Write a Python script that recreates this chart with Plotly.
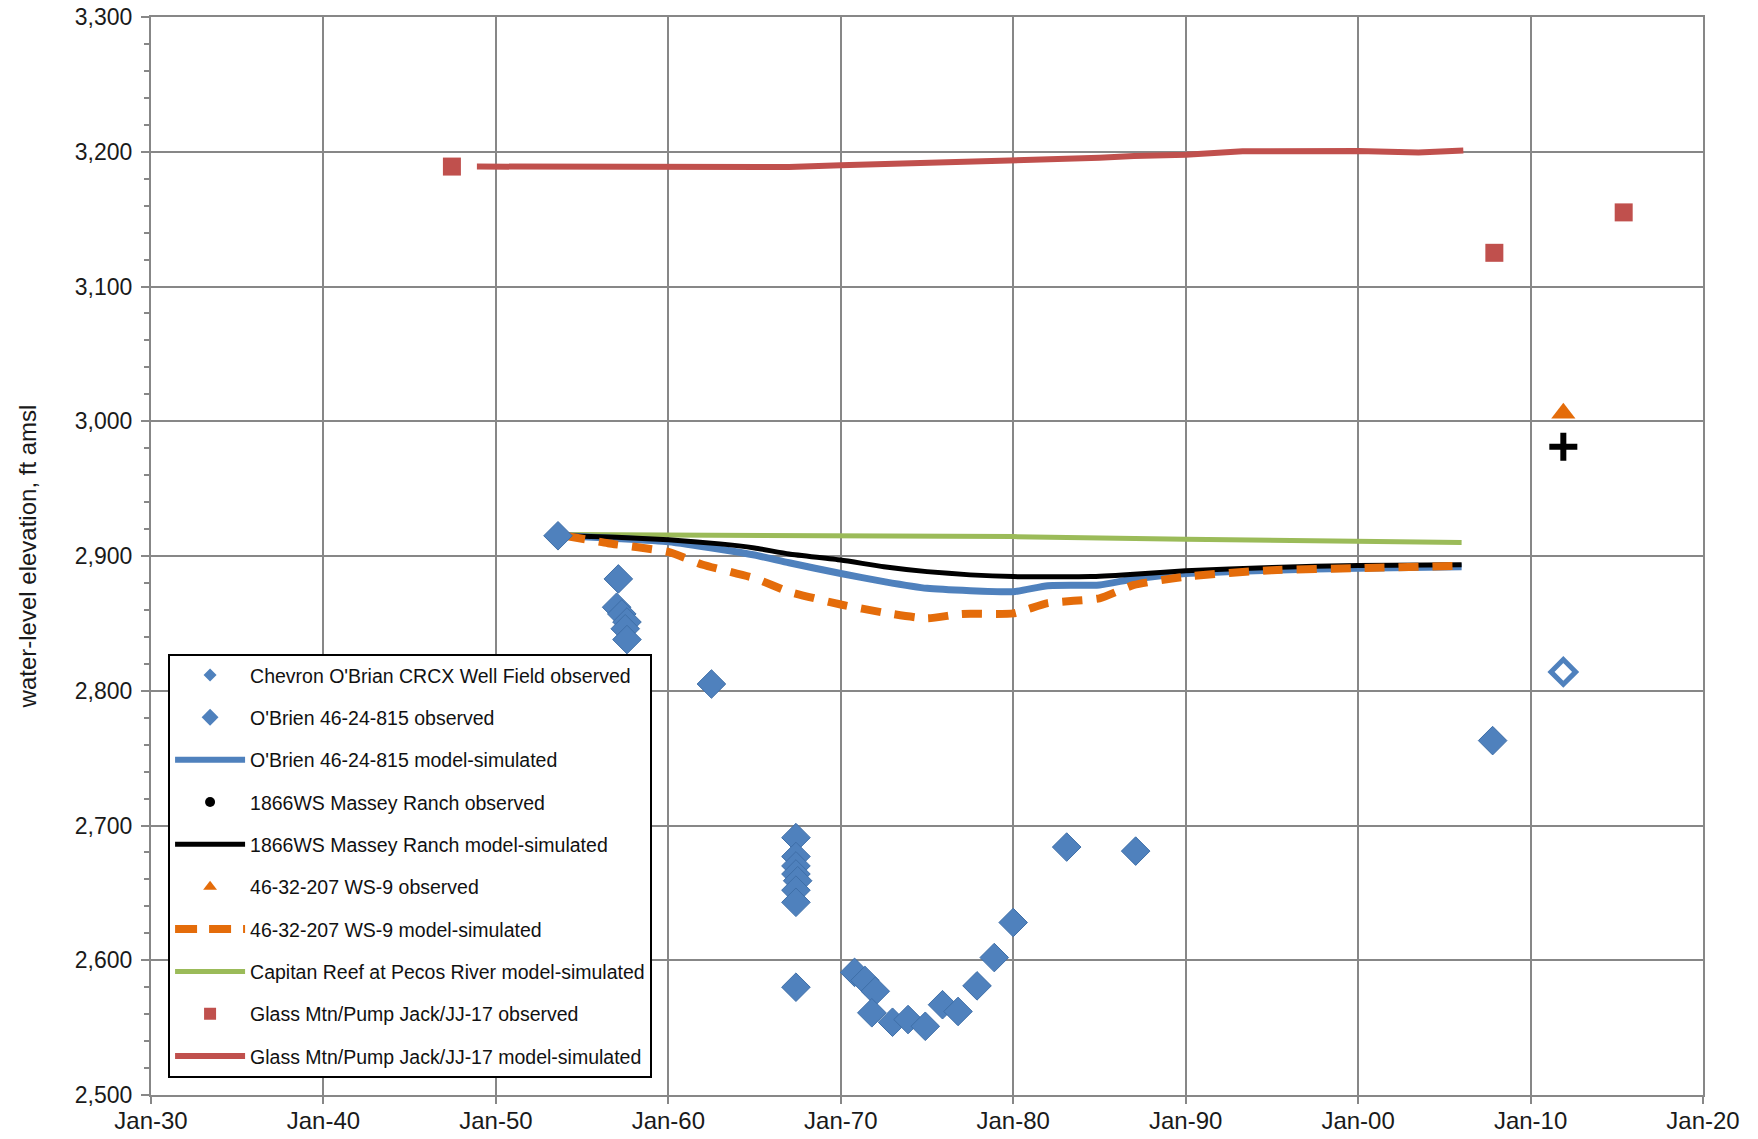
import plotly.graph_objects as go
from datetime import datetime, timedelta

# ---------------- data (decimal years, ft amsl) ----------------
chevron_x = [1957.1, 1957.0, 1957.3, 1957.6, 1957.5, 1957.6, 1962.5,
             1967.4, 1967.4, 1967.4, 1967.4, 1967.5, 1967.4, 1967.4, 1967.4,
             1970.8, 1971.4, 1972.0, 1971.8, 1973.0, 1973.9, 1974.9, 1975.9,
             1976.8, 1977.9, 1978.9, 1980.0, 1983.1, 1987.1]
chevron_y = [2883, 2862, 2857, 2851, 2846, 2838, 2805,
             2691, 2677, 2670, 2664, 2659, 2652, 2643, 2580,
             2591, 2585, 2577, 2561, 2554, 2556, 2551, 2567,
             2562, 2581, 2602, 2628, 2684, 2681]

obrien_obs_x = [1953.6, 2007.8]
obrien_obs_y = [2915, 2763]
obrien_open_x = [2011.9]
obrien_open_y = [2814]

obrien_sim_x = [1954, 1957, 1960, 1963, 1965, 1967, 1970, 1972.5, 1975, 1980,
                1982, 1985, 1987, 1990, 1995, 2000, 2006]
obrien_sim_y = [2915, 2913, 2910.6, 2905, 2900.7, 2895, 2887, 2881, 2876, 2873.5,
                2878, 2878.5, 2883, 2887, 2889.5, 2891, 2892]

massey_obs_x = [2011.9]
massey_obs_y = [2981]
massey_sim_x = [1954, 1957, 1960, 1963, 1965, 1967, 1970, 1972.5, 1975, 1977.5,
                1980, 1984.5, 1987, 1990, 1995, 2000, 2006]
massey_sim_y = [2915, 2914, 2912, 2909, 2906, 2901.5, 2897, 2892, 2888.4, 2886,
                2884.7, 2884.7, 2886.5, 2889, 2891.5, 2893, 2893.5]

ws9_obs_x = [2011.9]
ws9_obs_y = [3006]
ws9_sim_x = [1954, 1956.5, 1960, 1962, 1965, 1967, 1970, 1972.5, 1975, 1977,
             1980, 1982, 1985, 1987, 1990, 1995, 2000, 2006]
ws9_sim_y = [2915, 2909.5, 2903, 2893.5, 2883.5, 2873.5, 2864, 2858, 2853.7, 2857,
             2857.4, 2865, 2868.6, 2878.5, 2884.7, 2889.5, 2891, 2892.8]

capitan_sim_x = [1954, 1960, 1970, 1980, 1990, 2000, 2006]
capitan_sim_y = [2916, 2915.5, 2915, 2914.4, 2912.5, 2911, 2910]

glass_obs_x = [1947.45, 2007.9, 2015.4]
glass_obs_y = [3189, 3125, 3155]
glass_sim_x = [1948.9, 1953, 1958, 1962, 1967, 1970, 1975, 1980, 1985, 1987,
               1990, 1993.3, 1996, 2000, 2003.5, 2006.1]
glass_sim_y = [3189, 3188.8, 3188, 3188.6, 3188.6, 3190, 3191.5, 3193.6, 3195.5, 3196.8,
               3197.8, 3200.3, 3200.5, 3200.5, 3199.5, 3201]

legend_names = [
    "Chevron O'Brian CRCX Well Field observed",
    "O'Brien 46-24-815 observed",
    "O'Brien 46-24-815 model-simulated",
    "1866WS Massey Ranch observed",
    "1866WS Massey Ranch model-simulated",
    "46-32-207 WS-9 observed",
    "46-32-207 WS-9 model-simulated",
    "Capitan Reef at Pecos River model-simulated",
    "Glass Mtn/Pump Jack/JJ-17 observed",
    "Glass Mtn/Pump Jack/JJ-17 model-simulated",
]

x_tick_years = [1930, 1940, 1950, 1960, 1970, 1980, 1990, 2000, 2010, 2020]

# ---------------- styling ----------------
BLUE = "#4F81BD"
RED = "#C0504D"
GREEN = "#9BBB59"
ORANGE = "#E46C0A"
BLACK = "#000000"
GRID = "#878787"
FONT = "Liberation Sans, Arial, sans-serif"


def to_date(y):
    yr = int(y)
    return datetime(yr, 1, 1) + timedelta(days=(y - yr) * 365.25)


def dates(xs):
    return [to_date(v) for v in xs]


fig = go.Figure()

# legend-only entries (in reference order)
legend_styles = [
    dict(mode="markers", marker=dict(symbol="diamond", size=10, color=BLUE)),
    dict(mode="markers", marker=dict(symbol="diamond", size=13, color=BLUE)),
    dict(mode="lines", line=dict(color=BLUE, width=6)),
    dict(mode="markers", marker=dict(symbol="circle", size=10, color=BLACK)),
    dict(mode="lines", line=dict(color=BLACK, width=5)),
    dict(mode="markers", marker=dict(symbol="triangle-up", size=12, color=ORANGE)),
    dict(mode="lines", line=dict(color=ORANGE, width=8, dash="22px,12px")),
    dict(mode="lines", line=dict(color=GREEN, width=5)),
    dict(mode="markers", marker=dict(symbol="square", size=12, color=RED)),
    dict(mode="lines", line=dict(color=RED, width=6)),
]
for i, (name, st) in enumerate(zip(legend_names, legend_styles)):
    fig.add_trace(go.Scatter(x=[None], y=[None], name=name, legendgroup=f"g{i}",
                             showlegend=True, hoverinfo="skip", **st))

# plotted lines
fig.add_trace(go.Scatter(x=dates(glass_sim_x), y=glass_sim_y, mode="lines",
                         line=dict(color=RED, width=6), showlegend=False, legendgroup="g9"))
fig.add_trace(go.Scatter(x=dates(capitan_sim_x), y=capitan_sim_y, mode="lines",
                         line=dict(color=GREEN, width=5), showlegend=False, legendgroup="g7"))
fig.add_trace(go.Scatter(x=dates(obrien_sim_x), y=obrien_sim_y, mode="lines",
                         line=dict(color=BLUE, width=7, shape="spline", smoothing=0.5),
                         showlegend=False, legendgroup="g2"))
fig.add_trace(go.Scatter(x=dates(massey_sim_x), y=massey_sim_y, mode="lines",
                         line=dict(color=BLACK, width=5, shape="spline", smoothing=0.5),
                         showlegend=False, legendgroup="g4"))
fig.add_trace(go.Scatter(x=dates(ws9_sim_x), y=ws9_sim_y, mode="lines",
                         line=dict(color=ORANGE, width=8, dash="20px,14px", shape="spline", smoothing=0.5),
                         showlegend=False, legendgroup="g6"))

# plotted markers
fig.add_trace(go.Scatter(x=dates(chevron_x), y=chevron_y, mode="markers",
                         marker=dict(symbol="diamond", size=22, color=BLUE,
                                     line=dict(color="#3f6fa8", width=1)),
                         showlegend=False, legendgroup="g0"))
fig.add_trace(go.Scatter(x=dates(obrien_obs_x), y=obrien_obs_y, mode="markers",
                         marker=dict(symbol="diamond", size=22, color=BLUE,
                                     line=dict(color="#3f6fa8", width=1)),
                         showlegend=False, legendgroup="g1"))
fig.add_trace(go.Scatter(x=dates(obrien_open_x), y=obrien_open_y, mode="markers",
                         marker=dict(symbol="diamond", size=19, color="white",
                                     line=dict(color=BLUE, width=5)),
                         showlegend=False, legendgroup="g1"))
fig.add_trace(go.Scatter(x=dates(massey_obs_x), y=massey_obs_y, mode="markers",
                         marker=dict(symbol="cross-thin", size=20,
                                     line=dict(color=BLACK, width=6)),
                         showlegend=False, legendgroup="g3"))
fig.add_trace(go.Scatter(x=dates(ws9_obs_x), y=ws9_obs_y, mode="markers",
                         marker=dict(symbol="triangle-up", size=21, color=ORANGE),
                         showlegend=False, legendgroup="g5"))
fig.add_trace(go.Scatter(x=dates(glass_obs_x), y=glass_obs_y, mode="markers",
                         marker=dict(symbol="square", size=18, color=RED),
                         showlegend=False, legendgroup="g8"))

fig.update_layout(
    width=1758, height=1139,
    margin=dict(l=151, r=55, t=17, b=44, autoexpand=False),
    paper_bgcolor="white", plot_bgcolor="white",
    font=dict(family=FONT, color="#1a1a1a"),
    showlegend=True,
    legend=dict(
        x=0.011, y=0.016, xanchor="left", yanchor="bottom",
        bgcolor="white", bordercolor="black", borderwidth=2,
        font=dict(family=FONT, size=19.5, color="#111111"),
        traceorder="grouped", tracegroupgap=14, itemwidth=70,
        itemclick=False,
    ),
    xaxis=dict(
        type="date",
        range=[to_date(x_tick_years[0]), to_date(x_tick_years[-1])],
        tickvals=dates(x_tick_years),
        tickformat="%b-%y",
        showgrid=True, gridcolor=GRID, gridwidth=2,
        showline=True, linecolor=GRID, linewidth=2, mirror=True,
        ticks="outside", ticklen=7, tickwidth=2, tickcolor=GRID,
        ticklabelstandoff=-4,
        tickfont=dict(size=24, color="#1a1a1a"),
        zeroline=False, automargin=False,
    ),
    yaxis=dict(
        range=[2500, 3300], dtick=100, tick0=2500,
        tickformat=",d",
        showgrid=True, gridcolor=GRID, gridwidth=2,
        showline=True, linecolor=GRID, linewidth=2, mirror=True,
        ticks="outside", ticklen=8, tickwidth=2, tickcolor=GRID,
        ticklabelstandoff=4,
        minor=dict(dtick=20, ticks="outside", ticklen=5, tickwidth=2, tickcolor=GRID, showgrid=False),
        tickfont=dict(size=23, color="#1a1a1a"),
        title=dict(text="water-level elevation, ft amsl", font=dict(size=24, color="#1a1a1a"), standoff=31),
        zeroline=False, automargin=False,
    ),
)

fig.write_html("out.html", config={"displayModeBar": False},
               post_script="document.body.style.margin='0';")
